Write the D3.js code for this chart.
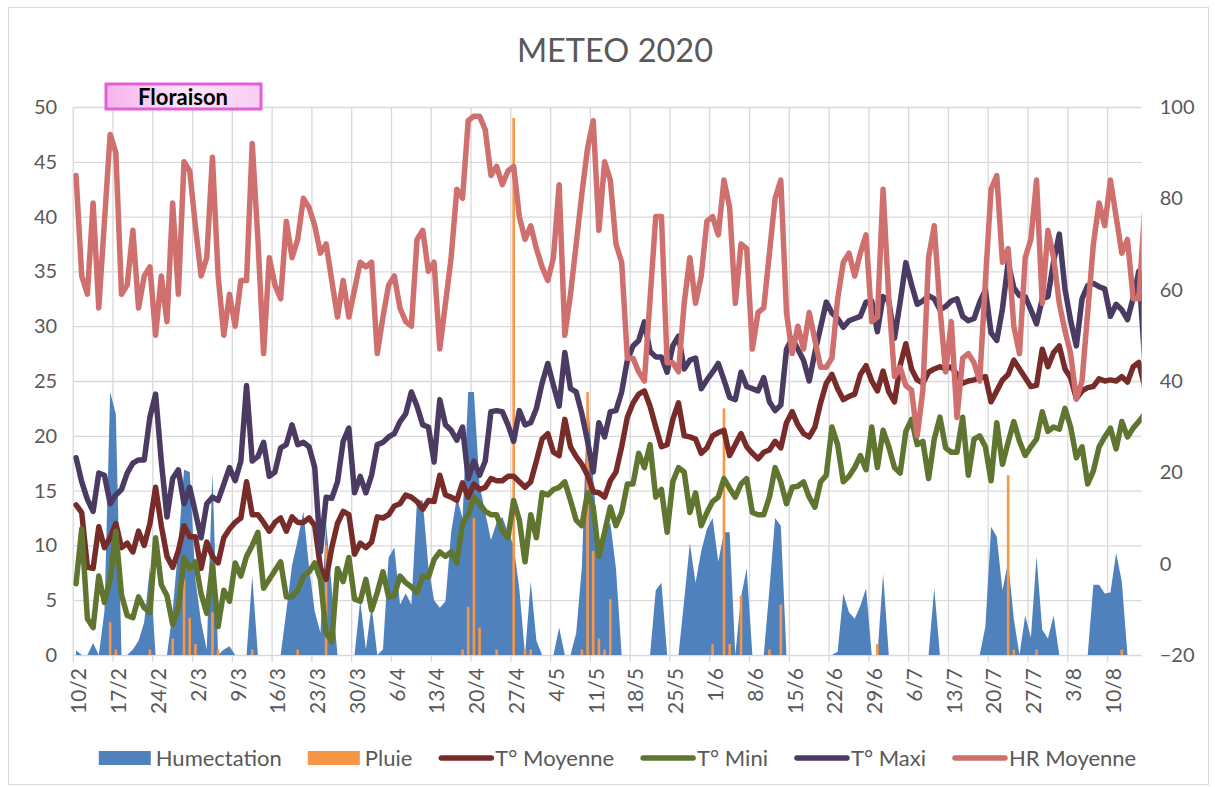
<!DOCTYPE html>
<html>
<head>
<meta charset="utf-8">
<script src="https://cdn.jsdelivr.net/npm/d3@7"></script>
<style>
    body { margin: 0; background: #fff; }
    text { font-family: Lato, 'Liberation Sans', Arial, sans-serif; }
</style>
</head>
<body>
<div id="chart"></div>
<script>
//Données journalières, du 10/2 au 16/8 (le dernier jour sort de l'axe)
const humectation = [
    0.4, 0, 0, 1.1, 0, 4, 24, 22, 0, 0,
    0.5, 1.3, 3, 8, 0, 0, 0, 4, 10, 16.9,
    16.7, 6.9, 3, 0.5, 16.7, 0, 0.5, 0.8, 0, 0,
    0, 7.2, 0, 0, 0, 0, 0, 4, 8.2, 10.5,
    13.1, 8, 4, 2, 12, 6, 0, 0, 0, 0,
    5, 0.5, 4.5, 0, 0.5, 8.9, 9.8, 4.6, 5.6, 4.6,
    14.1, 14.1, 8, 5, 4.3, 4.9, 11.2, 14.4, 12.5, 24,
    24, 15.5, 13, 10.5, 12.1, 12.6, 11.2, 10, 6, 0,
    6.7, 1.3, 0, 0, 0, 2.5, 0, 0, 2, 8,
    24, 16, 9.5, 11.2, 12.1, 7.9, 0, 0, 0, 0,
    0, 0, 5.9, 6.6, 0, 0, 0, 5, 10.2, 6.6,
    9.5, 11.5, 12.5, 8.5, 11.2, 11.2, 0, 5.3, 7.9, 0,
    0, 0, 6, 12.5, 11.8, 0, 0, 0, 0, 0,
    0, 0, 0, 0, 0.3, 5.6, 3.9, 3.3, 4.5, 6.1,
    0, 0, 7.4, 0, 0, 0, 0, 0, 0, 0,
    0, 6.1, 0, 0, 0, 0, 0, 0, 0, 0,
    2.6, 11.7, 10.8, 5.9, 8.5, 3.3, 0, 3.6, 1.6, 9,
    2.3, 1.5, 3.6, 0, 0, 0, 0, 0, 0, 6.4,
    6.4, 5.6, 5.7, 9.3, 6.7, 0, 0, 0, 0
];

const pluie = [
    0, 0, 0, 0, 0, 0, 3, 0.5, 0, 0,
    0, 0, 0, 0.5, 0, 0, 0, 1.5, 0, 6.9,
    3.4, 1, 0, 0, 3.9, 0.5, 0, 0, 0, 0,
    0, 0.5, 0, 0, 0, 0, 0, 0, 0, 0.5,
    0, 0, 0, 0, 10, 0, 0, 0, 0, 0,
    0, 0, 0, 0, 0, 0, 0, 0, 0, 0,
    0, 0, 0, 0, 0, 0, 0, 0, 0.5, 4.4,
    12.5, 2.5, 0, 0, 0.5, 0, 0, 49, 0, 0.5,
    0.5, 0, 0, 0, 0, 0, 0, 0, 0, 0.5,
    24, 9.5, 1.5, 0.5, 5.1, 0, 0, 0, 0, 0,
    0, 0, 0, 0, 0, 0, 0, 0, 0, 0,
    0, 0, 1, 0, 22.5, 1, 0, 5.4, 0, 0,
    0, 0, 0.5, 0, 4.6, 0, 0, 0, 0, 0,
    0, 0, 0, 0, 0, 0, 0, 0, 0, 0,
    0, 1, 0, 0, 0, 0, 0, 0, 0, 0,
    0, 0, 0, 0, 0, 0, 0, 0, 0, 0,
    0, 0, 0, 0, 16.4, 0.5, 0, 0, 0, 0.5,
    0, 0, 0, 0, 0, 0, 0, 0, 0, 0,
    0, 0, 0, 0, 0.5, 0, 0, 0, 0
];

const tMoyenne = [
    13.7, 13, 8, 7.9, 11.7, 9.8, 10.7, 12, 9.8, 10.2,
    9.4, 11.3, 10, 12, 15.3, 11.8, 9, 8, 9.5, 11.8,
    10.8, 10.8, 7.9, 10.3, 9, 8.4, 10.7, 11.5, 12.1, 12.5,
    15.8, 12.8, 12.8, 12.1, 11.3, 12.1, 12.5, 11.3, 12.6, 12.1,
    12.1, 12.5, 11.8, 8, 6.9, 9.8, 12, 13.1, 12.8, 9.2,
    10.2, 9.8, 10.3, 12.6, 12.5, 12.8, 13.6, 13.8, 14.6, 14.4,
    14, 13.3, 14.1, 14, 16.4, 14.6, 14.4, 14.1, 15.7, 14.4,
    15.6, 15.1, 15.3, 16.1, 15.9, 15.9, 16.3, 16.3, 15.8, 15.3,
    15.8, 17.7, 19.7, 20.2, 18.5, 18.2, 21.5, 19, 18.1, 17.4,
    16.4, 14.9, 14.8, 14.4, 15.9, 16.7, 19, 21.7, 23, 23.8,
    24.1, 22.7, 20.8, 19, 19.2, 21.5, 23, 20, 19.9, 19.7,
    18.4, 18.9, 20, 20.3, 20.5, 18.2, 19.2, 20.2, 19, 18.4,
    17.9, 18.5, 18.7, 19.5, 18.9, 21.2, 22.2, 21, 20.2, 19.9,
    20.8, 23, 24.8, 25.6, 24.3, 23.3, 23.6, 23.8, 25.6, 26.4,
    25, 24.1, 25.9, 24, 23.1, 26.4, 28.4, 26.1, 25.1, 24.8,
    25.8, 26.1, 26.3, 26.1, 26.3, 25.6, 24.8, 25, 25.1, 25.3,
    25.4, 23.1, 24.1, 25.1, 25.6, 26.9, 26.1, 25.3, 24.5, 24.6,
    27.9, 26.3, 27.6, 28.2, 26.1, 25.3, 23.4, 24.1, 24.4, 24.5,
    25.2, 25, 25.1, 25, 25.4, 24.9, 26.3, 26.7, 24.5
];

const tMini = [
    6.5, 11.5, 3.3, 2.5, 7.2, 4.8, 6.9, 11.3, 5.5, 3.6,
    3.4, 5.3, 4.3, 3.9, 10.7, 6.4, 5.4, 2.8, 4.3, 8.9,
    7.9, 8.5, 5.6, 3.8, 8.2, 2.6, 5.9, 4.9, 8.4, 7.2,
    9, 10, 11.2, 6.1, 6.9, 7.7, 8.5, 5.3, 5.3, 5.9,
    7.2, 7.6, 8.4, 6.9, 2, 1.2, 7.9, 6.7, 8.9, 5.1,
    4.9, 6.9, 4.1, 5.7, 7.6, 5.3, 5.4, 7.2, 6.6, 6.2,
    5.7, 7.2, 7.1, 8.7, 9.4, 9, 9.4, 8.4, 12, 12.8,
    14.4, 13.8, 13.1, 12.8, 12.8, 11.3, 10.7, 14.1, 12.3, 8.5,
    12.8, 10.7, 14.8, 14.6, 15.1, 15.3, 15.8, 14.1, 12.3, 11.8,
    14.8, 13.5, 9, 11.2, 13.5, 11.8, 13, 15.6, 15.6, 18.4,
    17.1, 19.2, 14.4, 15.1, 11.2, 15.8, 17.1, 16.7, 13, 14.8,
    11.8, 13, 14, 14.4, 16.1, 15.2, 14.4, 15.6, 16.1, 13,
    12.8, 12.8, 14.4, 17.1, 15.8, 13.8, 15.3, 15.4, 15.8, 14.4,
    13.5, 15.8, 16.4, 20.8, 19.2, 15.8, 16.3, 17.1, 18.2, 16.9,
    20.8, 17.1, 20.5, 19, 17.1, 16.6, 20.4, 21.5, 19.2, 19.5,
    16.1, 19.7, 21.7, 18.9, 18.5, 18.5, 21.7, 16.4, 19.7, 20,
    19, 15.9, 21.2, 17.4, 19.4, 21.3, 19.5, 18.2, 19, 19.7,
    22.2, 20.4, 20.8, 20.6, 22.5, 20.8, 18, 19, 15.6, 16.8,
    19, 19.9, 20.7, 18.8, 21.3, 19.9, 20.7, 21.3, 22
];

const tMaxi = [
    18, 15.8, 14.2, 13.1, 16.6, 16.4, 13.8, 14.6, 15.1, 16.6,
    17.5, 17.8, 17.8, 21.7, 23.8, 17.7, 12.6, 16.1, 16.9, 13.8,
    15.3, 13, 10.7, 13.8, 14.4, 14.1, 15.6, 17.1, 15.9, 17.7,
    24.6, 17.7, 18.1, 19.4, 16.3, 16.7, 18.9, 19.2, 21, 19.2,
    19.4, 19, 17.1, 9.4, 14.4, 14.3, 15.8, 19.5, 20.7, 14.8,
    16.3, 14.8, 16.4, 19.2, 19.4, 19.9, 20.2, 21.3, 22, 24,
    22.7, 21, 20.8, 17.6, 23.3, 21, 20.5, 19.6, 20.8, 16.1,
    17.7, 16.4, 17.7, 22.2, 22.3, 22.2, 21, 19.5, 22.3, 21,
    21.2, 22.5, 24.8, 26.6, 24.6, 22.7, 27.6, 24.3, 24, 22,
    19.5, 16.7, 21.2, 19.9, 22.2, 22.3, 24, 26.9, 28.2, 28.7,
    30.4, 27.7, 27.2, 27.2, 25.8, 28.2, 29.1, 26.1, 26.9, 27.1,
    24.3, 25.1, 25.8, 26.6, 25.1, 23.5, 23.3, 25.8, 24.5, 24.3,
    24.1, 25.3, 23.1, 22.3, 22.8, 27.9, 28.9, 27.9, 26.9, 25,
    27.6, 29.9, 32.2, 31.2, 30.7, 29.9, 30.5, 30.7, 30.9, 32.2,
    32.3, 29.5, 32.7, 32.3, 28.9, 32.2, 35.8, 33.8, 32, 32.3,
    32.8, 32.5, 31.5, 31.8, 32.3, 32.5, 30.9, 30.5, 30.7, 32.2,
    33.3, 29.4, 28.7, 31.6, 35.8, 33.5, 32.8, 32.7, 31.5, 30.2,
    32.5, 32.7, 35.9, 38.4, 33.4, 30.5, 28.2, 32.5, 33.7, 33.9,
    33.6, 33.4, 30.9, 32, 31.5, 30.6, 32.6, 35, 27
];

const hrMoyenne = [
    85, 63, 59, 79, 56, 75, 94, 90, 59, 61,
    73, 56, 63, 65, 50, 63, 53, 79, 59, 88,
    86, 74, 63, 67, 89, 63, 50, 59, 52, 62,
    62, 92, 71, 46, 67, 61, 58, 75, 67, 71,
    80, 78, 74, 68, 70, 62, 54, 62, 54, 60,
    66, 65, 66, 46, 54, 61, 63, 56, 53, 52,
    71, 73, 64, 66, 47, 57, 67, 82, 80, 97,
    98, 98, 95, 85, 87, 83, 86, 87, 76, 71,
    74, 69, 65, 62, 67, 83, 50, 59, 70, 81,
    91, 97, 73, 88, 84, 70, 66, 45, 45, 42,
    40, 58, 76, 76, 44, 44, 42, 57, 67, 57,
    63, 75, 76, 72, 84, 78, 57, 70, 69, 47,
    55, 56, 68, 80, 84, 55, 46, 52, 47, 55,
    49, 43, 43, 45, 58, 66, 68, 63, 68, 72,
    53, 54, 82, 58, 41, 43, 39, 38, 28, 38,
    67, 74, 56, 42, 53, 32, 45, 46, 44, 40,
    62, 82, 85, 66, 69, 52, 46, 67, 71, 84,
    57, 73, 67, 57, 51, 46, 36, 40, 55, 70,
    79, 74, 84, 76, 68, 71, 58, 58, 77
];

//Axes
const dayLabels = ['10/2', '17/2', '24/2', '2/3', '9/3', '16/3', '23/3', '30/3', '6/4', '13/4',
    '20/4', '27/4', '4/5', '11/5', '18/5', '25/5', '1/6', '8/6', '15/6', '22/6',
    '29/6', '6/7', '13/7', '20/7', '27/7', '3/8', '10/8'];
const leftTicks = [0, 5, 10, 15, 20, 25, 30, 35, 40, 45, 50];
const rightTicks = [-20, 0, 20, 40, 60, 80, 100];
const visibleDays = 188;

const series = [
    { key: 'Humectation', type: 'area', color: '#4f81bd' },
    { key: 'Pluie', type: 'bar', color: '#f79646' },
    { key: 'T° Moyenne', type: 'line', color: '#772c2a', values: tMoyenne },
    { key: 'T° Mini', type: 'line', color: '#5f7530', values: tMini },
    { key: 'T° Maxi', type: 'line', color: '#4b3a62', values: tMaxi },
    { key: 'HR Moyenne', type: 'line', color: '#d0706e', values: hrMoyenne, right: true }
];

const W = 1215, H = 787;
const plot = { left: 73.2, right: 1141.7, top: 107, bottom: 655 };
const GRID = '#d9d9d9', TXT = '#595959';

let svg = d3.select('#chart').append('svg')
    .attr('width', W)
    .attr('height', H);

//Cadre
svg.append('rect')
    .attr('x', 8.5).attr('y', 7.5)
    .attr('width', 1200).attr('height', 777)
    .attr('fill', '#fff')
    .attr('stroke', GRID);

let x = d3.scaleLinear()
    .domain([-0.5, visibleDays - 0.5])
    .range([plot.left, plot.right]);

let yL = d3.scaleLinear().domain([0, 50]).range([plot.bottom, plot.top]);
let yR = d3.scaleLinear().domain([-20, 100]).range([plot.bottom, plot.top]);

//Titre
svg.append('text')
    .attr('x', 615).attr('y', 62)
    .attr('text-anchor', 'middle')
    .attr('fill', TXT)
    .style('font-size', '32.5px')
    .text('METEO 2020');

//Axe gauche + grille horizontale
svg.append('g')
    .attr('transform', 'translate(' + plot.left + ',0)')
    .call(d3.axisLeft(yL).tickValues(leftTicks).tickSize(-(plot.right - plot.left)).tickPadding(16))
    .call(function(g) {
        g.select('.domain').remove();
        g.selectAll('.tick line').attr('stroke', GRID).attr('stroke-width', 1.3);
        g.selectAll('.tick text').attr('fill', TXT).style('font-size', '20px').style('font-family', 'Lato, Liberation Sans, sans-serif');
    });

//Axe droit
svg.append('g')
    .attr('transform', 'translate(' + plot.right + ',0)')
    .call(d3.axisRight(yR).tickValues(rightTicks).tickSize(0).tickPadding(18))
    .call(function(g) {
        g.select('.domain').remove();
        g.selectAll('.tick text').attr('fill', TXT).style('font-size', '20px').style('font-family', 'Lato, Liberation Sans, sans-serif');
    });

//Grille verticale (chaque semaine)
let weeks = dayLabels.map(function(d, i) { return { label: d, day: i * 7 }; });

svg.append('g')
    .selectAll('line')
    .data(weeks)
    .enter()
    .append('line')
    .attr('x1', function(d) { return x(d.day - 0.5); })
    .attr('x2', function(d) { return x(d.day - 0.5); })
    .attr('y1', plot.top)
    .attr('y2', plot.bottom + 7)
    .attr('stroke', GRID)
    .attr('stroke-width', 1.3);

//Libellés des dates
svg.append('g')
    .selectAll('text')
    .data(weeks)
    .enter()
    .append('text')
    .attr('transform', function(d) { return 'translate(' + (x(d.day) + 3) + ',' + (plot.bottom + 13) + ') rotate(-90)'; })
    .attr('text-anchor', 'end')
    .attr('dy', '0.35em')
    .attr('fill', TXT)
    .style('font-size', '21px')
    .text(function(d) { return d.label; });

//Zone de tracé
svg.append('clipPath')
    .attr('id', 'clip')
    .append('rect')
    .attr('x', plot.left).attr('y', 0)
    .attr('width', plot.right - plot.left).attr('height', plot.bottom);

let chart = svg.append('g').attr('clip-path', 'url(#clip)');

//Humectation
chart.append('path')
    .datum(humectation)
    .attr('fill', series[0].color)
    .attr('d', d3.area()
        .x(function(d, i) { return x(i); })
        .y0(yL(0))
        .y1(function(d) { return yL(d); }));

//Pluie
chart.append('g')
    .selectAll('rect')
    .data(pluie.map(function(v, i) { return { i: i, v: v }; }).filter(function(d) { return d.v > 0; }))
    .enter()
    .append('rect')
    .attr('x', function(d) { return x(d.i) - 1.3; })
    .attr('width', 2.6)
    .attr('y', function(d) { return yL(d.v); })
    .attr('height', function(d) { return yL(0) - yL(d.v); })
    .attr('fill', series[1].color);

//Courbes
series.filter(function(s) { return s.type == 'line'; }).forEach(function(s) {
    let y = s.right ? yR : yL;
    chart.append('path')
        .datum(s.values)
        .attr('fill', 'none')
        .attr('stroke', s.color)
        .attr('stroke-width', 5.5)
        .attr('stroke-linejoin', 'round')
        .attr('stroke-linecap', 'round')
        .attr('d', d3.line()
            .x(function(d, i) { return x(i); })
            .y(function(d) { return y(d); }));
});

//Étiquette Floraison
let grad = svg.append('defs').append('linearGradient').attr('id', 'flo');
grad.append('stop').attr('offset', '0%').attr('stop-color', '#f6b3ec');
grad.append('stop').attr('offset', '50%').attr('stop-color', '#fde4f9');
grad.append('stop').attr('offset', '100%').attr('stop-color', '#f9cdf3');

svg.append('rect')
    .attr('x', 106).attr('y', 84)
    .attr('width', 155).attr('height', 25)
    .attr('fill', 'url(#flo)')
    .attr('stroke', '#e35fd9')
    .attr('stroke-width', 3);

svg.append('text')
    .attr('x', 183).attr('y', 105)
    .attr('text-anchor', 'middle')
    .attr('fill', '#000')
    .style('font-size', '22px')
    .style('font-weight', 'bold')
    .text('Floraison');

//Légende
let legend = svg.append('g');
let lx = 0;
series.forEach(function(s) {
    let g = legend.append('g').attr('transform', 'translate(' + lx + ',0)');
    if (s.type == 'line') {
        g.append('line')
            .attr('x1', 3).attr('x2', 53)
            .attr('y1', 0).attr('y2', 0)
            .attr('stroke', s.color)
            .attr('stroke-width', 5.5)
            .attr('stroke-linecap', 'round');
    } else {
        g.append('rect')
            .attr('x', 0).attr('y', -7)
            .attr('width', 52).attr('height', 14)
            .attr('fill', s.color);
    }
    let t = g.append('text')
        .attr('x', 57).attr('dy', '0.35em')
        .attr('fill', TXT)
        .style('font-size', '22px')
        .text(s.key);
    lx += 57 + t.node().getComputedTextLength() + 26;
});
lx -= 26;
legend.attr('transform', 'translate(' + (617.5 - lx / 2) + ',758)');
</script>
</body>
</html>
